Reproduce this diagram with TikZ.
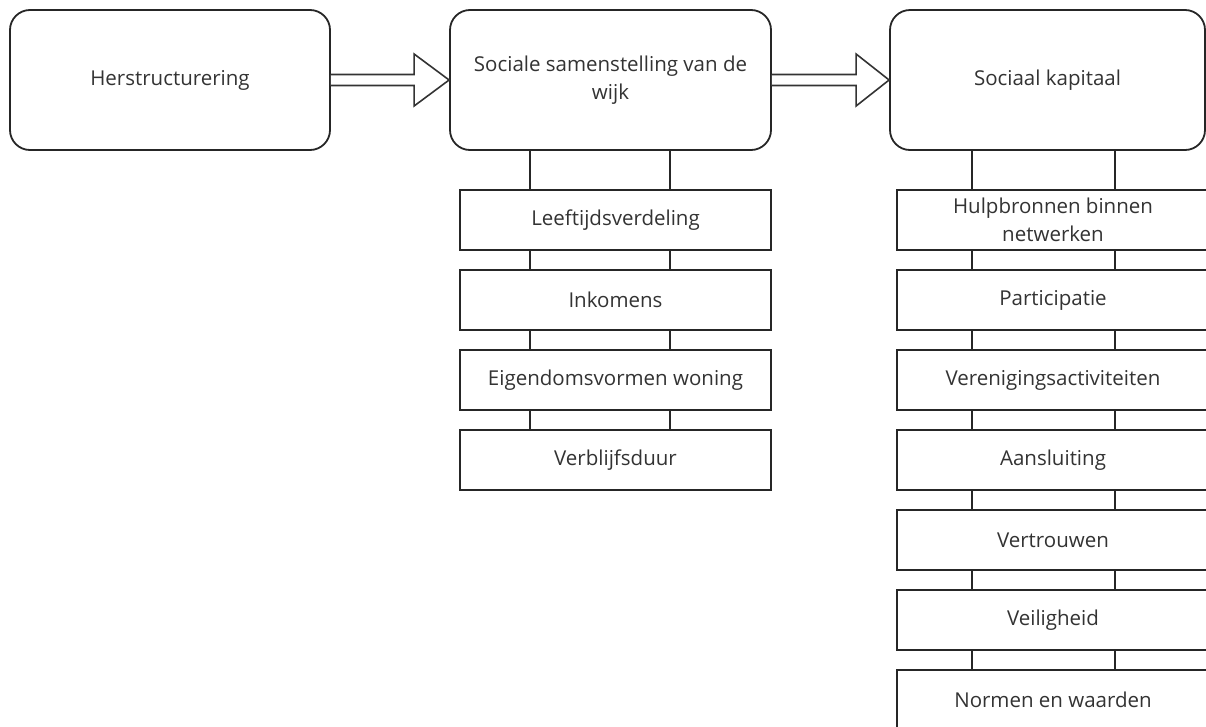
\documentclass[tikz,border=0pt]{standalone}
\usepackage{fontspec}
\setmainfont{Open Sans}
\usepackage{tikz}
\usetikzlibrary{calc}

\newcommand{\flexarrow}[3]{%
	\draw[line width=1.6pt, draw=black!80, fill=white, line join=miter]
		($(#1.east)+(0,-5.5)$) -- ($(#2.west)+(-#3,-5.5)$) -- ($(#2.west)+(-#3,-26)$)
		-- (#2.west) -- ($(#2.west)+(-#3,26)$) -- ($(#2.west)+(-#3,5.5)$) -- ($(#1.east)+(0,5.5)$);}

\begin{document}
\begin{tikzpicture}[x=1pt, y=-1pt]
	\useasboundingbox (0,0) rectangle (1206,726);
	\clip (0,0) rectangle (1206,726);

	\begin{scope}[every node/.style={draw=black!85, line width=1.8pt, rounded corners=20pt,
	              minimum width=320pt, minimum height=140pt, align=center, inner sep=2pt,
	              text=black!80, font=\fontsize{20.5pt}{28pt}\selectfont}]
		\node (herstructurering) at (170,80) {Herstructurering};
		\node[minimum width=321pt] (samenstelling) at (610.5,80) {Sociale samenstelling van de\\wijk};
		\node[minimum width=315pt] (kapitaal) at (1047.5,80) {Sociaal kapitaal};
	\end{scope}

	\begin{scope}[every node/.style={draw=black!85, line width=1.8pt, minimum width=311pt,
	              minimum height=60pt, align=center, inner sep=2pt, fill=white,
	              text=black!80, font=\fontsize{20.5pt}{28pt}\selectfont}]
		% linker kolom
		\node (leeftijd) at (615.5,220) {Leeftijdsverdeling};
		\node (inkomens) at (615.5,300) {Inkomens};
		\node (eigendom) at (615.5,380) {Eigendomsvormen woning};
		\node (verblijf) at (615.5,460) {Verblijfsduur};
		% rechter kolom
		\node[minimum width=312pt] (hulpbronnen) at (1053,220) {Hulpbronnen binnen\\netwerken};
		\node[minimum width=312pt] (participatie) at (1053,300) {Participatie};
		\node[minimum width=312pt] (vereniging) at (1053,380) {Verenigingsactiviteiten};
		\node[minimum width=312pt] (aansluiting) at (1053,460) {Aansluiting};
		\node[minimum width=312pt] (vertrouwen) at (1053,540) {Vertrouwen};
		\node[minimum width=312pt] (veiligheid) at (1053,620) {Veiligheid};
		\node[minimum width=312pt] (normen) at (1053,700) {Normen en waarden};
	\end{scope}

	\begin{scope}[line width=1.8pt, draw=black!85]
		\foreach \a/\b in {samenstelling/leeftijd, leeftijd/inkomens, inkomens/eigendom, eigendom/verblijf}
			\foreach \dx in {71,211}
				\draw ([xshift=\dx pt]\b.north west) -- ([xshift=\dx pt]\b.north west |- \a.south);
		\foreach \a/\b in {kapitaal/hulpbronnen, hulpbronnen/participatie, participatie/vereniging,
		                   vereniging/aansluiting, aansluiting/vertrouwen, vertrouwen/veiligheid, veiligheid/normen}
			\foreach \dx in {76,219}
				\draw ([xshift=\dx pt]\b.north west) -- ([xshift=\dx pt]\b.north west |- \a.south);
	\end{scope}

	\flexarrow{herstructurering}{samenstelling}{35}
	\flexarrow{samenstelling}{kapitaal}{33}
\end{tikzpicture}
\end{document}
